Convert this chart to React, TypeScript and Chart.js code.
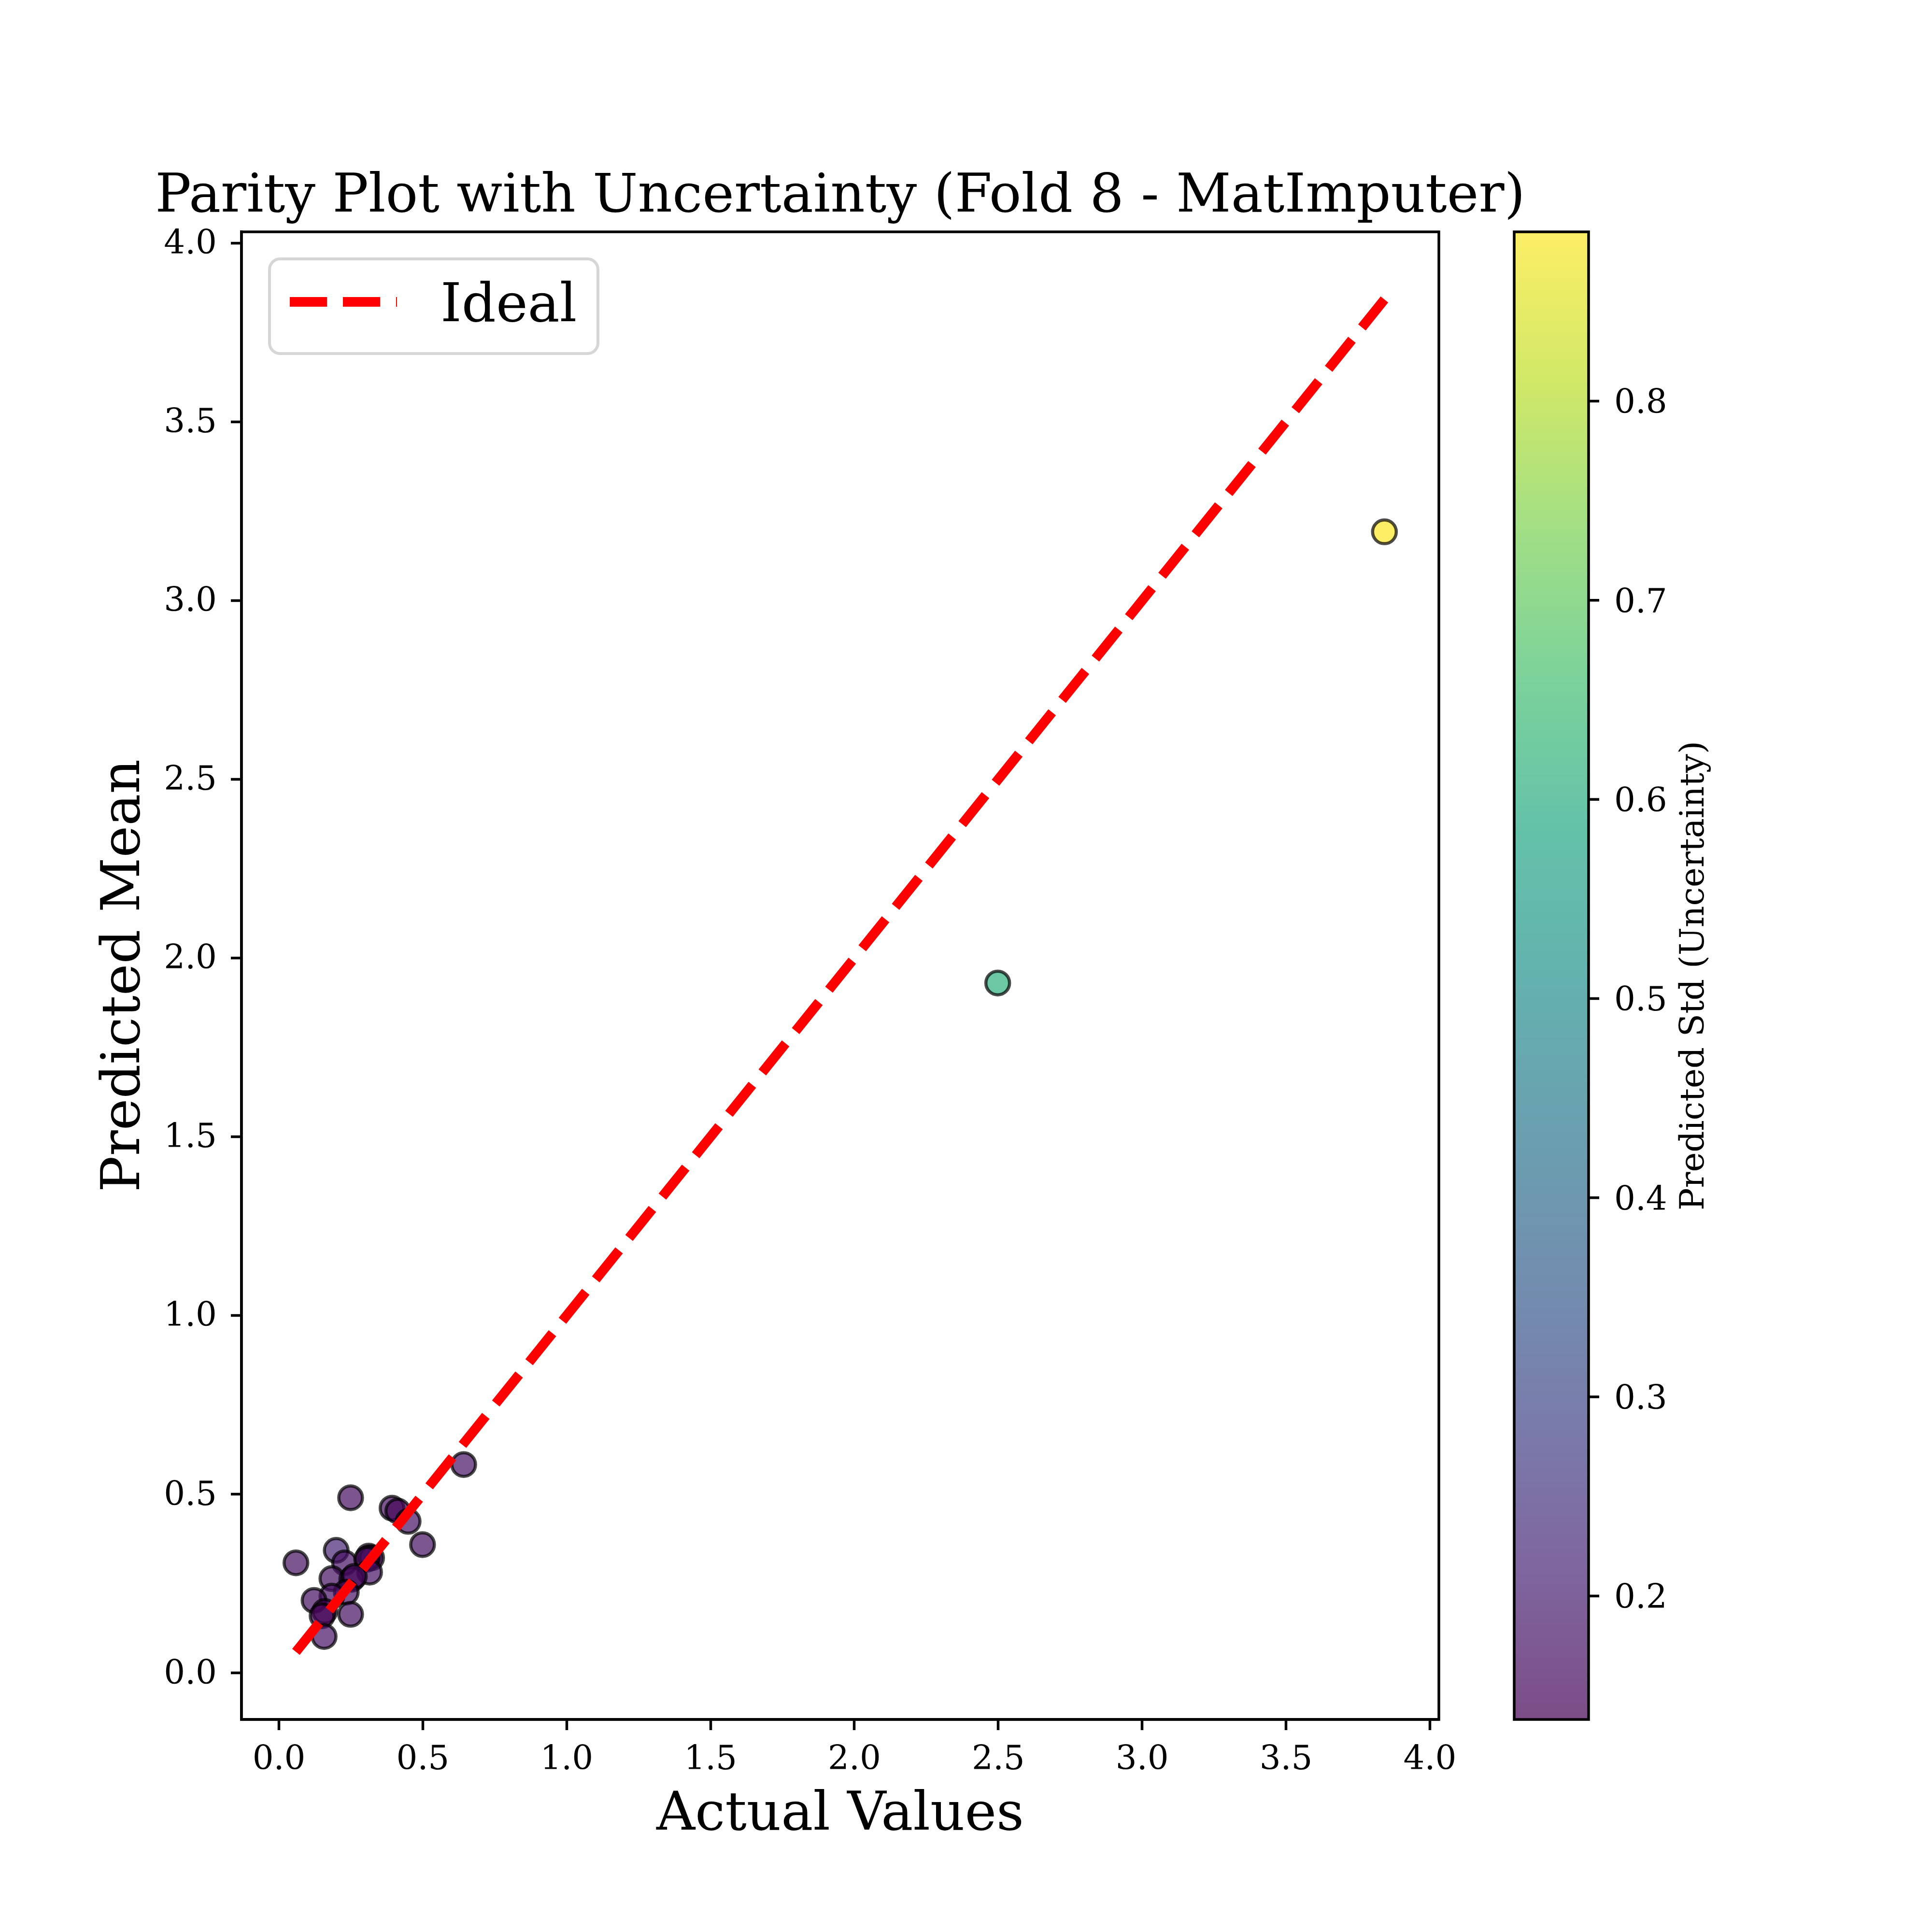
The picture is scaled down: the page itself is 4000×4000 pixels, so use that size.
import React, { useEffect, useRef } from 'react';
import { Chart, ChartConfiguration, Plugin, registerables } from 'chart.js';

Chart.register(...registerables);

// parity data (fold 8)
const actualValues = [
  0.642, 0.249, 0.393, 0.413, 0.449, 0.499, 0.059, 0.199, 0.228, 0.312,
  0.322, 0.305, 0.315, 0.184, 0.253, 0.262, 0.234, 0.184, 0.122, 0.159,
  0.150, 0.249, 0.157, 2.498, 3.842,
];
const predictedMean = [
  0.583, 0.490, 0.461, 0.453, 0.424, 0.359, 0.308, 0.343, 0.308, 0.327,
  0.322, 0.318, 0.282, 0.264, 0.262, 0.270, 0.226, 0.215, 0.203, 0.172,
  0.160, 0.164, 0.102, 1.930, 3.192,
];
const predictedStd = [
  0.170, 0.160, 0.165, 0.145, 0.170, 0.165, 0.165, 0.213, 0.170, 0.150,
  0.150, 0.160, 0.170, 0.165, 0.150, 0.155, 0.170, 0.170, 0.165, 0.138,
  0.145, 0.165, 0.170, 0.610, 0.885,
];
const axisTicks = [0, 0.5, 1.0, 1.5, 2.0, 2.5, 3.0, 3.5, 4.0];
const colorbarTicks = [0.2, 0.3, 0.4, 0.5, 0.6, 0.7, 0.8];

const FONT = '"DejaVu Serif", serif';

const VIRIDIS: number[][] = [
  [68, 1, 84], [72, 36, 117], [65, 68, 135], [53, 95, 141], [42, 120, 142],
  [33, 145, 140], [34, 168, 132], [68, 191, 112], [122, 209, 81],
  [189, 223, 38], [253, 231, 37],
];

const viridis = (t: number, alpha = 0.7) => {
  const c = Math.max(0, Math.min(1, t)) * (VIRIDIS.length - 1);
  const i = Math.min(Math.floor(c), VIRIDIS.length - 2);
  const f = c - i;
  const rgb = VIRIDIS[i].map((v, k) => Math.round(v + (VIRIDIS[i + 1][k] - v) * f));
  return `rgba(${rgb[0]},${rgb[1]},${rgb[2]},${alpha})`;
};

const stdMin = Math.min(...predictedStd);
const stdMax = Math.max(...predictedStd);
const norm = (v: number) => (v - stdMin) / (stdMax - stdMin);

const lineLo = Math.min(...actualValues);
const lineHi = Math.max(...actualValues);
const pad = (lo: number, hi: number) => [lo - 0.05 * (hi - lo), hi + 0.05 * (hi - lo)];
const [xMin, xMax] = pad(lineLo, lineHi);
const [yMin, yMax] = pad(Math.min(lineLo, ...predictedMean), Math.max(lineHi, ...predictedMean));

const decorations: Plugin = {
  id: 'decorations',
  afterDraw(chart) {
    const { ctx, chartArea: a } = chart;
    ctx.save();
    // frame
    ctx.strokeStyle = '#000';
    ctx.lineWidth = 5.5;
    ctx.strokeRect(a.left, a.top, a.right - a.left, a.bottom - a.top);

    const cx = (a.left + a.right) / 2;
    const cy = (a.top + a.bottom) / 2;
    ctx.fillStyle = '#000';
    ctx.textBaseline = 'alphabetic';

    // title + axis titles
    ctx.font = `111px ${FONT}`;
    ctx.textAlign = 'center';
    ctx.fillText('Parity Plot with Uncertainty (Fold 8 - MatImputer)', cx, a.top - 42);
    ctx.fillText('Actual Values', cx, 3788);
    ctx.save();
    ctx.translate(288, cy);
    ctx.rotate(-Math.PI / 2);
    ctx.fillText('Predicted Mean', 0, 0);
    ctx.restore();

    // legend
    const lx = a.left + 58, ly = a.top + 56, lw = 680, lh = 196;
    ctx.beginPath();
    ctx.roundRect(lx, ly, lw, lh, 22);
    ctx.fillStyle = 'rgba(255,255,255,0.8)';
    ctx.fill();
    ctx.strokeStyle = 'rgba(204,204,204,0.8)';
    ctx.lineWidth = 6;
    ctx.stroke();
    ctx.beginPath();
    ctx.setLineDash([77, 33]);
    ctx.lineCap = 'butt';
    ctx.strokeStyle = '#ff0000';
    ctx.lineWidth = 20;
    ctx.moveTo(lx + 42, ly + 89);
    ctx.lineTo(lx + 264, ly + 89);
    ctx.stroke();
    ctx.setLineDash([]);
    ctx.fillStyle = '#000';
    ctx.textAlign = 'left';
    ctx.fillText('Ideal', lx + 354, ly + 129);

    // colorbar
    const bx0 = 3135, bx1 = 3289;
    const grad = ctx.createLinearGradient(0, a.bottom, 0, a.top);
    for (let i = 0; i <= 50; i++) grad.addColorStop(i / 50, viridis(i / 50));
    ctx.fillStyle = grad;
    ctx.fillRect(bx0, a.top, bx1 - bx0, a.bottom - a.top);
    ctx.strokeStyle = '#000';
    ctx.lineWidth = 5.5;
    ctx.strokeRect(bx0, a.top, bx1 - bx0, a.bottom - a.top);
    ctx.font = `69px ${FONT}`;
    ctx.fillStyle = '#000';
    ctx.textAlign = 'left';
    colorbarTicks.forEach((v) => {
      const y = a.bottom - norm(v) * (a.bottom - a.top);
      ctx.beginPath();
      ctx.moveTo(bx1, y);
      ctx.lineTo(bx1 + 22, y);
      ctx.stroke();
      ctx.fillText(v.toFixed(1), 3342, y + 25);
    });
    ctx.save();
    ctx.translate(3527, cy);
    ctx.rotate(-Math.PI / 2);
    ctx.textAlign = 'center';
    ctx.fillText('Predicted Std (Uncertainty)', 0, 0);
    ctx.restore();

    ctx.restore();
  },
};

const axisStyle = (height: boolean) => ({
  type: 'linear' as const,
  afterBuildTicks: (s: any) => {
    s.ticks = axisTicks.map((v) => ({ value: v }));
  },
  afterFit: (s: any) => {
    if (height) s.height = 300;
    else s.width = 400;
  },
  ticks: {
    font: { family: FONT, size: 69 },
    color: '#000',
    padding: height ? 22 : 29,
    labelOffset: height ? 0 : 4,
    maxRotation: 0,
    autoSkip: false,
    callback: (v: any) => Number(v).toFixed(1),
  },
  grid: { drawOnChartArea: false, drawTicks: true, tickLength: 22, tickWidth: 5.5, tickColor: '#000' },
  border: { display: true, color: '#000', width: 5.5 },
});

export default function App() {
  const chartRef = useRef<HTMLCanvasElement>(null);

  useEffect(() => {
    if (!chartRef.current) return;
    const ctx = chartRef.current.getContext('2d');
    if (!ctx) return;

    const config: ChartConfiguration<'scatter'> = {
      type: 'scatter',
      data: {
        datasets: [
          {
            label: 'Ideal',
            data: [{ x: lineLo, y: lineLo }, { x: lineHi, y: lineHi }],
            showLine: true,
            borderColor: '#ff0000',
            borderWidth: 20,
            borderDash: [77, 33],
            pointRadius: 0,
            order: 0,
          },
          {
            label: 'Predictions',
            data: actualValues.map((x, i) => ({ x, y: predictedMean[i] })),
            pointRadius: 24.5,
            pointBorderWidth: 6.5,
            pointBackgroundColor: predictedStd.map((s) => viridis(norm(s))),
            pointBorderColor: 'rgba(0,0,0,0.7)',
            order: 1,
          },
        ],
      },
      options: {
        animation: false,
        responsive: false,
        devicePixelRatio: 1,
        layout: { padding: { left: 100, right: 1021, top: 480, bottom: 140 } },
        plugins: {
          legend: { display: false },
          tooltip: { enabled: false },
          title: { display: false },
        },
        scales: {
          x: { ...axisStyle(true), min: xMin, max: xMax },
          y: { ...axisStyle(false), min: yMin, max: yMax },
        },
      },
      plugins: [decorations],
    };

    const chart = new Chart(ctx, config);
    return () => chart.destroy();
  }, []);

  return (
    <div style={{ position: 'absolute', left: 0, top: 0, width: 4000, height: 4000, background: '#fff' }}>
      <canvas ref={chartRef} width={4000} height={4000} />
    </div>
  );
}
